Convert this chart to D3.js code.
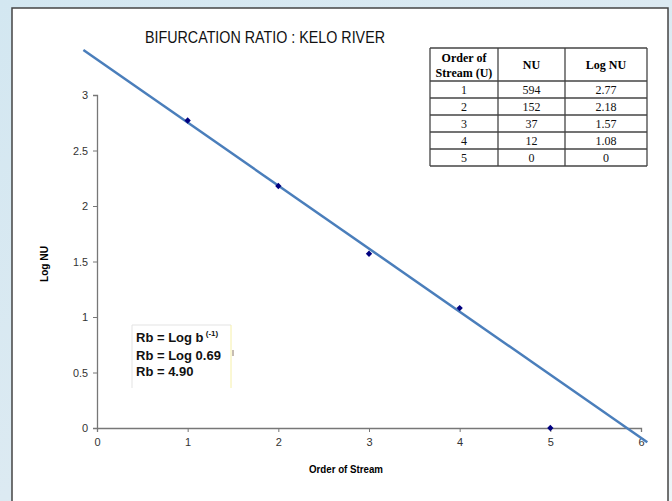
<!DOCTYPE html>
<html>
<head>
	<title>Bifurcation ratio</title>
	<script src="https://cdn.jsdelivr.net/npm/d3@7"></script>
	<style>
		body { margin: 0; overflow: hidden; }
		svg { display: block; }
	</style>
</head>
<body>
	<script>
		// DATA
		var orders = [1, 2, 3, 4, 5];
		var nu = [594, 152, 37, 12, 0];
		var logNu = [2.77, 2.18, 1.57, 1.08, 0];
		var xTicks = [0, 1, 2, 3, 4, 5, 6];
		var yTicks = [0, 0.5, 1, 1.5, 2, 2.5, 3];
		var tableHead = [["Order of", "Stream (U)"], ["NU"], ["Log NU"]];
		var notes = ["Rb = Log b", "Rb = Log 0.69", "Rb = 4.90"];

		var width = 672, height = 501;
		var narrow = "'Liberation Sans Narrow', 'Arial Narrow', 'Liberation Sans', sans-serif";
		var serif = "'Liberation Serif', 'Times New Roman', serif";

		var svg = d3.select("body").append("svg")
			.attr("width", width)
			.attr("height", height);

		// background + white panel
		var defs = svg.append("defs");
		var grad = defs.append("linearGradient").attr("id", "bg")
			.attr("x1", 0).attr("y1", 0).attr("x2", 1).attr("y2", 1);
		grad.append("stop").attr("offset", 0).attr("stop-color", "#d3e7f1");
		grad.append("stop").attr("offset", 0.5).attr("stop-color", "#dceaf2");
		grad.append("stop").attr("offset", 1).attr("stop-color", "#eef4f7");
		svg.append("rect").attr("width", width).attr("height", height).attr("fill", "url(#bg)");
		svg.append("rect").attr("x", 12).attr("y", 8).attr("width", 656).attr("height", 500)
			.attr("fill", "#fff").attr("stroke", "#444").attr("stroke-width", 1.5);

		// SCALES
		var x = d3.scaleLinear().domain([0, 6]).range([97, 641]);
		var y = d3.scaleLinear().domain([0, 3]).range([428, 95]);

		// AXES
		var xAxis = svg.append("g").attr("transform", "translate(0," + y(0) + ")")
			.call(d3.axisBottom(x).tickValues(xTicks).tickSize(4).tickPadding(6).tickFormat(d3.format("d")));
		var yAxis = svg.append("g").attr("transform", "translate(" + x(0) + ",0)")
			.call(d3.axisLeft(y).tickValues(yTicks).tickSize(4).tickPadding(5).tickFormat(function(d){ return d; }));
		[xAxis, yAxis].forEach(function(a){
			a.select(".domain").attr("stroke", "#777").attr("stroke-width", 1.3);
			a.selectAll(".tick line").attr("stroke", "#777");
			a.selectAll("text").attr("fill", "#333").style("font-family", narrow).style("font-size", "11px");
		});
		yAxis.selectAll(".tick text").filter(function(d){ return d % 1 != 0; })
			.attr("textLength", 15).attr("lengthAdjust", "spacingAndGlyphs");

		// TRENDLINE (least squares over the orders with streams)
		var fit = orders.filter(function(d, i){ return nu[i] > 0; });
		var fy = fit.map(function(d){ return logNu[orders.indexOf(d)]; });
		var mx = d3.mean(fit), my = d3.mean(fy);
		var sxy = d3.sum(fit, function(d, i){ return (d - mx) * (fy[i] - my); });
		var sxx = d3.sum(fit, function(d){ return (d - mx) * (d - mx); });
		var slope = sxy / sxx, icpt = my - slope * mx;
		var ends = [-0.15, 6.07];
		svg.append("line")
			.attr("x1", x(ends[0])).attr("y1", y(icpt + slope * ends[0]))
			.attr("x2", x(ends[1])).attr("y2", y(icpt + slope * ends[1]))
			.attr("stroke", "#4a7ebb").attr("stroke-width", 2.5);

		// POINTS
		svg.selectAll(".pt").data(orders).enter().append("path")
			.attr("class", "pt")
			.attr("d", d3.symbol().type(d3.symbolSquare).size(20))
			.attr("transform", function(d, i){ return "translate(" + x(d) + "," + y(logNu[i]) + ") rotate(45)"; })
			.attr("fill", "#000080");

		// TITLES
		svg.append("text").text("BIFURCATION RATIO : KELO RIVER")
			.attr("x", 145).attr("y", 43)
			.attr("textLength", 240).attr("lengthAdjust", "spacingAndGlyphs")
			.style("font-family", narrow).style("font-size", "16px").attr("fill", "#111");
		svg.append("text").text("Order of Stream")
			.attr("x", 309).attr("y", 473)
			.attr("textLength", 74).attr("lengthAdjust", "spacingAndGlyphs")
			.style("font-family", narrow).style("font-size", "11px").style("font-weight", "bold");
		svg.append("text").text("Log NU")
			.attr("transform", "translate(48,282) rotate(-90)")
			.attr("textLength", 36).attr("lengthAdjust", "spacingAndGlyphs")
			.style("font-family", narrow).style("font-size", "11px").style("font-weight", "bold");

		// TABLE
		var cols = [430, 498, 565, 647];
		var rowY = [48, 81];
		orders.forEach(function(d, i){ rowY.push(81 + 17 * (i + 1)); });
		var tbl = svg.append("g");
		tbl.append("rect").attr("x", cols[0]).attr("y", rowY[0])
			.attr("width", cols[3] - cols[0]).attr("height", rowY[rowY.length - 1] - rowY[0])
			.attr("fill", "#fff");
		rowY.forEach(function(ry){
			tbl.append("line").attr("x1", cols[0]).attr("x2", cols[3]).attr("y1", ry).attr("y2", ry)
				.attr("stroke", "#444").attr("stroke-width", 1.3);
		});
		cols.forEach(function(cx){
			tbl.append("line").attr("x1", cx).attr("x2", cx).attr("y1", rowY[0]).attr("y2", rowY[rowY.length - 1])
				.attr("stroke", "#444").attr("stroke-width", 1.3);
		});
		tableHead.forEach(function(lines, c){
			var cx = (cols[c] + cols[c + 1]) / 2;
			lines.forEach(function(t, k){
				tbl.append("text").text(t)
					.attr("x", cx).attr("y", lines.length == 1 ? 69 : 62 + k * 15)
					.attr("text-anchor", "middle")
					.style("font-family", serif).style("font-size", "12px").style("font-weight", "bold");
			});
		});
		orders.forEach(function(d, i){
			var vals = [d, nu[i], logNu[i] == 0 ? "0" : logNu[i].toFixed(2)];
			vals.forEach(function(v, c){
				tbl.append("text").text(v)
					.attr("x", (cols[c] + cols[c + 1]) / 2).attr("y", rowY[i + 1] + 13)
					.attr("text-anchor", "middle")
					.style("font-family", serif).style("font-size", "12px").attr("fill", "#111");
			});
		});

		// NOTE BOX
		svg.append("path").attr("d", "M132,388V325H231").attr("fill", "none").attr("stroke", "#e3e3e3");
		svg.append("line").attr("x1", 231).attr("x2", 231).attr("y1", 325).attr("y2", 388)
			.attr("stroke", "#f6f0a8");
		var nt = svg.append("g").style("font-family", "'Liberation Sans', Arial, sans-serif")
			.style("font-size", "13px").style("font-weight", "bold").attr("fill", "#111");
		notes.forEach(function(t, i){
			var el = nt.append("text").attr("x", 136).attr("y", 342 + i * 18 - (i == 2 ? 2 : 0)).text(t);
			if (i == 0) el.append("tspan").attr("dy", -6).style("font-size", "8px").text(" (-1)");
		});
		svg.append("line").attr("x1", 233).attr("x2", 233).attr("y1", 350).attr("y2", 356)
			.attr("stroke", "#a09080").attr("stroke-width", 1.2);
	</script>
</body>
</html>
